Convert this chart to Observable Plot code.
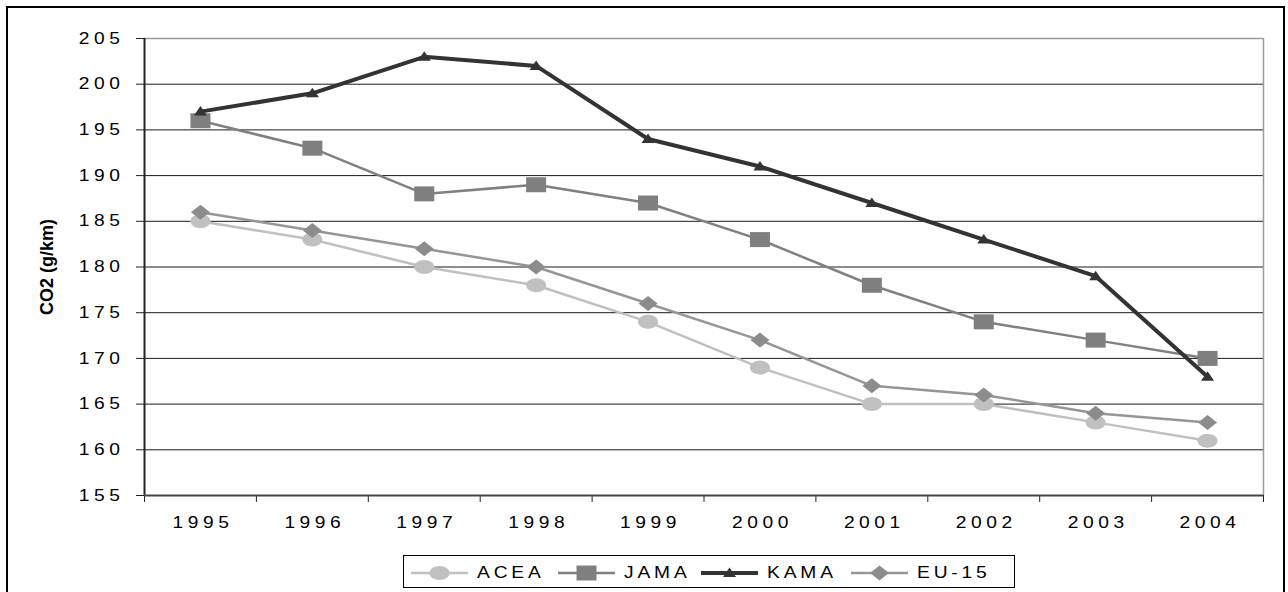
<!DOCTYPE html>
<html>
<head>
<meta charset="utf-8">
<script src="https://cdn.jsdelivr.net/npm/d3@7"></script>
<script src="https://cdn.jsdelivr.net/npm/@observablehq/plot@0.6"></script>
<style>
  html, body { margin: 0; padding: 0; background: #fff; }
  #wrap { position: relative; width: 1288px; height: 592px; overflow: hidden; background: #fff;
          font-family: "Liberation Sans", Arial, sans-serif; }
  #frame { position: absolute; left: 6px; top: 6px; width: 1275px; height: 600px;
           border: 2.5px solid #000; pointer-events: none; }
  .co2 g[aria-label="x-axis tick label"] text,
  .co2 g[aria-label="y-axis tick label"] text { font-size: 16px; letter-spacing: 3.8px; fill: #000; }
  #legend { position: absolute; left: 403px; top: 555px; width: 612px; height: 33px;
            border: 1px solid #000; box-sizing: border-box; background: #fff; }
  .item { position: absolute; top: 0; height: 33px; display: flex; align-items: center; }
  .item span { font-size: 16px; letter-spacing: 3.2px; margin-left: 9px; color: #000;
               display: inline-block; transform: scaleX(1.2); transform-origin: left center; }
</style>
</head>
<body>
<div id="wrap">
  <div id="chart"></div>
  <div id="legend"></div>
  <div id="frame"></div>
</div>
<script>
// Average new-car CO2 emissions by manufacturer association
const years = [1995, 1996, 1997, 1998, 1999, 2000, 2001, 2002, 2003, 2004];
const acea  = [185, 183, 180, 178, 174, 169, 165, 165, 163, 161];
const jama  = [196, 193, 188, 189, 187, 183, 178, 174, 172, 170];
const kama  = [197, 199, 203, 202, 194, 191, 187, 183, 179, 168];
const eu15  = [186, 184, 182, 180, 176, 172, 167, 166, 164, 163];
const seriesNames = ["ACEA", "JAMA", "KAMA", "EU-15"];
const yTicks = [155, 160, 165, 170, 175, 180, 185, 190, 195, 200, 205];
const yLabel = "CO2 (g/km)";

// Marker shapes (wider than tall)
const ellipseSym = {draw(ctx) {
  const rx = 10, ry = 7, k = 0.5523;
  ctx.moveTo(rx, 0);
  ctx.bezierCurveTo(rx, ry * k, rx * k, ry, 0, ry);
  ctx.bezierCurveTo(-rx * k, ry, -rx, ry * k, -rx, 0);
  ctx.bezierCurveTo(-rx, -ry * k, -rx * k, -ry, 0, -ry);
  ctx.bezierCurveTo(rx * k, -ry, rx, -ry * k, rx, 0);
  ctx.closePath();
}};
const squareSym = {draw(ctx) { ctx.rect(-10, -7.5, 20, 15); }};
const triangleSym = {draw(ctx) {
  ctx.moveTo(0, -5.5); ctx.lineTo(6.5, 4); ctx.lineTo(-6.5, 4); ctx.closePath();
}};
const diamondSym = {draw(ctx) {
  ctx.moveTo(0, -7.5); ctx.lineTo(9.5, 0); ctx.lineTo(0, 7.5); ctx.lineTo(-9.5, 0); ctx.closePath();
}};

const styles = [
  {name: seriesNames[0], values: acea, line: "#c0c0c0", fill: "#c0c0c0", width: 2.5, symbol: ellipseSym},
  {name: seriesNames[1], values: jama, line: "#808080", fill: "#7f7f7f", width: 2.5, symbol: squareSym},
  {name: seriesNames[2], values: kama, line: "#333333", fill: "#333333", width: 4, symbol: triangleSym},
  {name: seriesNames[3], values: eu15, line: "#969696", fill: "#8c8c8c", width: 2.5, symbol: diamondSym}
];

const rows = s => years.map((year, i) => ({year, value: s.values[i], series: s.name}));
const bounds = years.map(y => y - 0.5).concat([years[years.length - 1] + 0.5]);

const seriesMarks = styles.flatMap(s => [
  Plot.line(rows(s), {x: "year", y: "value", stroke: s.line, strokeWidth: s.width, strokeLinejoin: "round"}),
  Plot.dot(rows(s), {x: "year", y: "value", symbol: () => s.symbol, r: 5, fill: s.fill, stroke: "none"})
]);

const chart = Plot.plot({
  className: "co2",
  width: 1288,
  height: 592,
  marginLeft: 144,
  marginRight: 25,
  marginTop: 38,
  marginBottom: 97,
  style: {fontFamily: "'Liberation Sans', Arial, sans-serif", fontSize: "16px", background: "transparent", color: "#000"},
  x: {type: "linear", domain: [bounds[0], bounds[bounds.length - 1]]},
  y: {domain: [yTicks[0], yTicks[yTicks.length - 1]]},
  symbol: {type: "identity"},
  marks: [
    Plot.ruleY(yTicks.slice(1, -1), {stroke: "#1a1a1a", strokeWidth: 1}),
    Plot.ruleY([yTicks[yTicks.length - 1]], {stroke: "#9a9a9a", strokeWidth: 1.5}),
    Plot.ruleX([bounds[bounds.length - 1]], {stroke: "#9a9a9a", strokeWidth: 1.5}),
    Plot.axisY({ticks: yTicks, tickSize: 8, tickPadding: 12, tickFormat: d => String(d), label: null,
                stroke: "#222", fontSize: 16}),
    Plot.axisX({ticks: bounds, tickSize: 7, tickFormat: () => "", label: null, stroke: "#222"}),
    Plot.axisX({ticks: years, tickSize: 0, tickPadding: 21, tickFormat: d => String(d), label: null,
                dx: 2.5, fontSize: 16}),
    Plot.ruleX([bounds[0]], {stroke: "#222", strokeWidth: 2}),
    Plot.ruleY([yTicks[0]], {stroke: "#444", strokeWidth: 2}),
    Plot.text([yLabel], {frameAnchor: "left", textAnchor: "middle", dx: -97, rotate: -90,
                         fontWeight: "bold", fontSize: 18, fill: "#000", letterSpacing: 1.2}),
    ...seriesMarks
  ]
});
// Tick labels are set in a slightly widened face
d3.select(chart)
  .selectAll('g[aria-label="x-axis tick label"] text, g[aria-label="y-axis tick label"] text')
  .attr("transform", function() { return (this.getAttribute("transform") || "") + " scale(1.2,1)"; });
document.getElementById("chart").appendChild(chart);

// Legend row
const legend = d3.select("#legend");
const itemLeft = [7, 154, 297, 447];
styles.forEach((s, i) => {
  const item = legend.append("div").attr("class", "item").style("left", itemLeft[i] + "px");
  const svg = item.append("svg").attr("width", 57).attr("height", 20);
  svg.append("line").attr("x1", 0).attr("x2", 57).attr("y1", 10).attr("y2", 10)
    .attr("stroke", s.line).attr("stroke-width", s.width);
  const p = d3.path();
  s.symbol.draw(p);
  svg.append("path").attr("d", p.toString()).attr("transform", "translate(28.5,10)").attr("fill", s.fill);
  item.append("span").text(s.name);
});
</script>
</body>
</html>
